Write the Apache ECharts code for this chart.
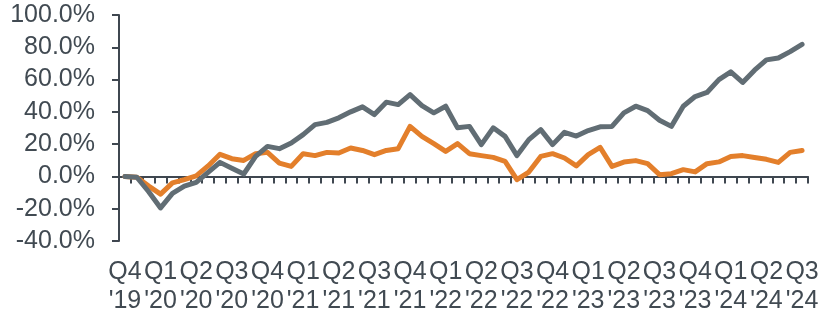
<!DOCTYPE html>
<html>
<head>
<meta charset="utf-8">
<script src="https://cdn.jsdelivr.net/npm/echarts@6/dist/echarts.min.js"></script>
<style>
  html, body { margin: 0; padding: 0; background: #ffffff; }
  #main { width: 822px; height: 320px; }
</style>
</head>
<body>
<div id="main"></div>
<script>
// monthly points, Dec 2019 .. Sep 2024
var months = [
  'Dec-19',
  'Jan-20','Feb-20','Mar-20','Apr-20','May-20','Jun-20','Jul-20','Aug-20','Sep-20','Oct-20','Nov-20','Dec-20',
  'Jan-21','Feb-21','Mar-21','Apr-21','May-21','Jun-21','Jul-21','Aug-21','Sep-21','Oct-21','Nov-21','Dec-21',
  'Jan-22','Feb-22','Mar-22','Apr-22','May-22','Jun-22','Jul-22','Aug-22','Sep-22','Oct-22','Nov-22','Dec-22',
  'Jan-23','Feb-23','Mar-23','Apr-23','May-23','Jun-23','Jul-23','Aug-23','Sep-23','Oct-23','Nov-23','Dec-23',
  'Jan-24','Feb-24','Mar-24','Apr-24','May-24','Jun-24','Jul-24','Aug-24','Sep-24'
];
// one label per quarter end
var quarterLabels = [
  "Q4\n'19","Q1\n'20","Q2\n'20","Q3\n'20","Q4\n'20","Q1\n'21","Q2\n'21","Q3\n'21","Q4\n'21","Q1\n'22",
  "Q2\n'22","Q3\n'22","Q4\n'22","Q1\n'23","Q2\n'23","Q3\n'23","Q4\n'23","Q1\n'24","Q2\n'24","Q3\n'24"
];
var grayValues = [
  0, -0.5, -9.5, -19.5, -10.5, -6, -3.7, 2.5, 8.7, 5, 1.5, 12.4, 18.6,
  17.2, 20.7, 25.9, 32.1, 33.5, 36.3, 40, 43.1, 38.3, 46, 44.5, 50.7,
  43.9, 39.4, 43.5, 30.1, 31, 19.7, 30.1, 24.8, 12.9, 22.8, 29, 19.7,
  27.3, 25, 28.4, 30.7, 31, 39.4, 43.5, 40.8, 34.8, 31, 43.5, 49.5,
  52, 60, 64.8, 58.2, 65.8, 72.2, 73.4, 77.3, 81.8
];
var orangeValues = [
  0, -0.5, -6, -11, -4, -2, 0.3, 6.5, 13.7, 11, 9.9, 14.1, 14.9,
  8.3, 6.2, 14.1, 12.9, 14.9, 14.5, 17.6, 16.1, 13.5, 16.1, 17.2, 31,
  24.8, 20.3, 15.5, 20.3, 14.1, 12.9, 11.8, 9.3, -2, 2.7, 12.4, 14.1,
  11.4, 6.5, 13.5, 18, 6.2, 8.9, 9.8, 7.9, 1.1, 1.7, 4.2, 2.8,
  7.9, 9, 12.4, 12.9, 11.7, 10.6, 8.7, 14.9, 16.1
];

var axisColor = '#3f4750';
var textColor = '#414a52';
var fontName = 'Arial, "Liberation Sans", sans-serif';

var myChart = echarts.init(document.getElementById('main'));
var option = {
  animation: false,
  backgroundColor: '#ffffff',
  grid: { left: 119, right: 14, top: 15, bottom: 79 },
  xAxis: [
    {
      type: 'category',
      data: months,
      boundaryGap: true,
      axisLine: { onZero: true, lineStyle: { color: axisColor, width: 2 } },
      axisTick: { show: true, interval: 0, inside: false, length: 7, lineStyle: { color: axisColor, width: 2 } },
      axisLabel: { show: false },
      splitLine: { show: false }
    },
    {
      type: 'category',
      data: months,
      position: 'bottom',
      boundaryGap: true,
      axisLine: { show: false, onZero: false },
      axisTick: { show: false },
      splitLine: { show: false },
      axisLabel: {
        interval: 2,
        margin: 17,
        color: textColor,
        fontSize: 25,
        lineHeight: 29,
        fontFamily: fontName,
        formatter: function (v, idx) {
          return quarterLabels[Math.round(idx / 3)];
        }
      }
    }
  ],
  yAxis: {
    type: 'value',
    min: -40,
    max: 100,
    interval: 20,
    axisLine: { show: true, lineStyle: { color: axisColor, width: 2 } },
    axisTick: { show: true, length: 7, lineStyle: { color: axisColor, width: 2 } },
    splitLine: { show: false },
    axisLabel: {
      margin: 24,
      color: textColor,
      fontSize: 25,
      fontFamily: fontName,
      formatter: function (v) { return v.toFixed(1) + '%'; }
    }
  },
  series: [
    {
      name: 'orange',
      type: 'line',
      xAxisIndex: 0,
      data: orangeValues,
      symbol: 'none',
      lineStyle: { color: '#e37f2b', width: 5, join: 'round', cap: 'round' }
    },
    {
      name: 'gray',
      type: 'line',
      xAxisIndex: 0,
      data: grayValues,
      symbol: 'none',
      lineStyle: { color: '#616d74', width: 5, join: 'round', cap: 'round' }
    }
  ]
};
myChart.setOption(option, true);
</script>
</body>
</html>
